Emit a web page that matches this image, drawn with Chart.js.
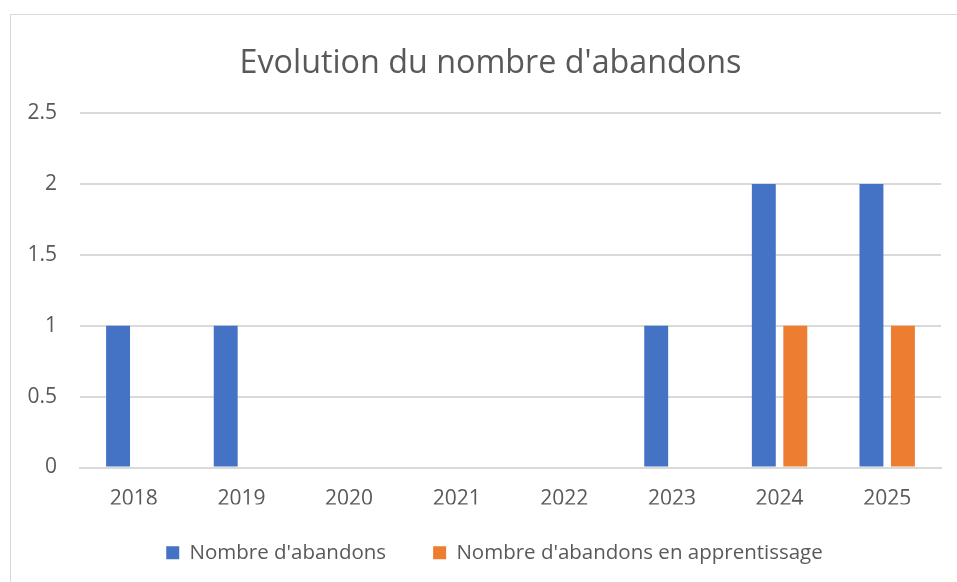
<!DOCTYPE html>
<html>
<head>
<meta charset="utf-8">
<script src="https://cdn.jsdelivr.net/npm/chart.js@4/dist/chart.umd.min.js"></script>
<style>
  html, body { margin: 0; padding: 0; background: #fff; overflow: hidden; }
  #frame { position: absolute; left: 10px; top: 14px; width: 960px; height: 580px; border: 1px solid #d9d9d9; }
  #wrap { position: absolute; left: 0; top: 0; width: 957px; height: 582px; }
</style>
</head>
<body>
<div id="frame"></div>
<div id="wrap"><canvas id="chart" width="957" height="582"></canvas></div>
<script>
// years on the x axis
const years = ['2018', '2019', '2020', '2021', '2022', '2023', '2024', '2025'];
// values
const abandons = [1, 1, 0, 0, 0, 1, 2, 2];
const abandonsApprentissage = [0, 0, 0, 0, 0, 0, 1, 1];

const grey = '#595959';
Chart.defaults.font.family = '"Open Sans", sans-serif';
Chart.defaults.color = grey;

// title and legend are centred on the whole frame, not on the plot area,
// so nudge their boxes after layout
const nudgeBoxes = {
  id: 'nudgeBoxes',
  afterLayout: (chart) => {
    const t = chart.titleBlock;
    t.left += 20;
    t.right += 20;
    const l = chart.legend;
    l.left += 24;
    l.right += 24;
    l.top -= 9;
    l.bottom -= 9;
  }
};

new Chart(document.getElementById('chart'), {
  type: 'bar',
  data: {
    labels: years,
    datasets: [
      {
        label: "Nombre d'abandons",
        data: abandons,
        backgroundColor: '#4472C4',
        categoryPercentage: 0.585,
        barPercentage: 0.76
      },
      {
        label: "Nombre d'abandons en apprentissage",
        data: abandonsApprentissage,
        backgroundColor: '#ED7D31',
        categoryPercentage: 0.585,
        barPercentage: 0.76
      }
    ]
  },
  options: {
    responsive: false,
    animation: false,
    layout: { padding: { left: 0, right: 16, top: 0, bottom: 0 } },
    plugins: {
      title: {
        display: true,
        text: "Evolution du nombre d'abandons",
        color: grey,
        font: { size: 32.3, weight: 'normal', lineHeight: 1.2 },
        padding: { top: 44, bottom: 30.5 }
      },
      legend: {
        position: 'bottom',
        labels: {
          boxWidth: 13,
          boxHeight: 13,
          padding: 47,
          color: grey,
          font: { size: 20.5 }
        }
      },
      tooltip: { enabled: false }
    },
    scales: {
      x: {
        grid: { display: false, drawTicks: false },
        border: { display: true, color: '#d9d9d9', width: 2 },
        ticks: { padding: 19, font: { size: 21 }, color: grey },
        afterFit: (scale) => { scale.height = 37; }
      },
      y: {
        min: 0,
        max: 2.5,
        ticks: {
          stepSize: 0.5,
          padding: 23,
          font: { size: 21 },
          color: grey,
          callback: (v) => String(v)
        },
        grid: { color: '#d9d9d9', lineWidth: 2, drawTicks: false },
        border: { display: false },
        afterFit: (scale) => { scale.width = 80; }
      }
    }
  },
  plugins: [nudgeBoxes]
});
</script>
</body>
</html>
